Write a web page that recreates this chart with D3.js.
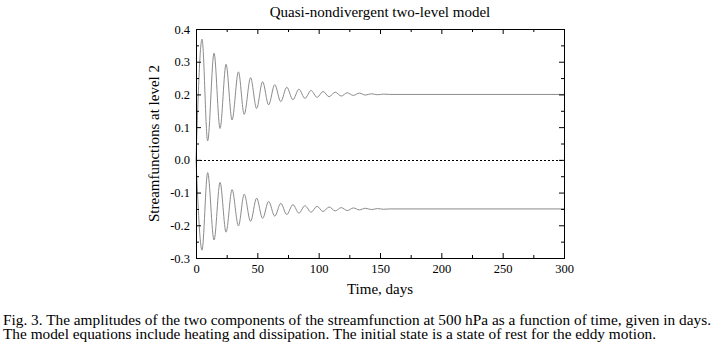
<!DOCTYPE html>
<html>
<head>
<meta charset="utf-8">
<script src="https://cdn.jsdelivr.net/npm/d3@7"></script>
<style>
  body { margin: 0; background: #fff; }
  text { font-family: "Liberation Serif", "DejaVu Serif", serif; fill: #000; }
</style>
</head>
<body>
<script>
// times (days) of the extrema
var timeDays = [0, 4.9, 9.5, 14.7, 19.6, 24.5, 29.4, 34.6, 39.3, 44.5, 49.4,
    54.3, 59.2, 64.2, 69.1, 74.0, 79.0, 83.9, 88.8, 93.8, 98.7,
    103.6, 108.5, 113.5, 118.4, 123.3, 128.3, 133.2, 138.1, 143, 148, 153, 158, 300];

// upper component (settles at 0.2)
var upperValues = [0, 0.369, 0.058, 0.326, 0.096, 0.292, 0.122, 0.269, 0.139, 0.251, 0.157,
    0.239, 0.168, 0.230, 0.178, 0.222, 0.184, 0.216, 0.188, 0.212, 0.191,
    0.209, 0.193, 0.207, 0.195, 0.205, 0.197, 0.204, 0.198, 0.202, 0.199, 0.201, 0.2, 0.2];

// lower component (settles at -0.15)
var lowerValues = [0, -0.276, -0.039, -0.245, -0.069, -0.221, -0.091, -0.202, -0.105, -0.188, -0.117,
    -0.179, -0.127, -0.172, -0.133, -0.167, -0.137, -0.163, -0.140, -0.160, -0.142,
    -0.158, -0.144, -0.156, -0.146, -0.155, -0.147, -0.153, -0.148, -0.152, -0.149, -0.151, -0.15, -0.15];

var xTicks = [0, 50, 100, 150, 200, 250, 300];
var xMinor = [25, 75, 125, 175, 225, 275];
var yTicks = [-0.3, -0.2, -0.1, 0, 0.1, 0.2, 0.3, 0.4];
var yMinor = [-0.25, -0.15, -0.05, 0.05, 0.15, 0.25, 0.35];

var width = 714;
var height = 345;
var plotLeft = 196, plotRight = 564, plotTop = 29, plotBottom = 258;

var svg = d3.select("body").append("svg")
    .attr("width", width)
    .attr("height", height);

var xScale = d3.scaleLinear().domain([0, 300]).range([plotLeft, plotRight]);
var yScale = d3.scaleLinear().domain([-0.3, 0.4]).range([plotBottom, plotTop]);

var fmt = function (d) { return d.toFixed(1); };

// zero line (dotted)
svg.append("line")
    .attr("x1", xScale(0)).attr("x2", xScale(300))
    .attr("y1", Math.round(yScale(0)) + 0.5).attr("y2", Math.round(yScale(0)) + 0.5)
    .attr("stroke", "#000")
    .attr("stroke-width", 1)
    .attr("stroke-dasharray", "2,2");

// curves
var line = d3.line()
    .x(function (d) { return xScale(d[0]); })
    .y(function (d) { return yScale(d[1]); })
    .curve(d3.curveMonotoneX);

[upperValues, lowerValues].forEach(function (vals) {
    svg.append("path")
        .datum(timeDays.map(function (t, i) { return [t, vals[i]]; }))
        .attr("d", line)
        .attr("fill", "none")
        .attr("stroke", "#8c8c8c")
        .attr("stroke-width", 1);
});

// axes with inward ticks
function styleAxis(g) {
    g.select(".domain").remove();
    g.selectAll("line").attr("stroke", "#000");
    g.selectAll("text").style("font-family", "Liberation Serif").style("font-size", "12.5px");
}

svg.append("g").attr("transform", "translate(0," + plotBottom + ")")
    .call(d3.axisBottom(xScale).tickValues(xTicks).tickFormat(d3.format("d")).tickSize(-5).tickPadding(6))
    .call(styleAxis);
svg.append("g").attr("transform", "translate(0," + plotBottom + ")")
    .call(d3.axisBottom(xScale).tickValues(xMinor).tickFormat("").tickSize(-3))
    .call(styleAxis);
svg.append("g").attr("transform", "translate(0," + plotTop + ")")
    .call(d3.axisTop(xScale).tickValues(xTicks).tickFormat("").tickSize(-5))
    .call(styleAxis);
svg.append("g").attr("transform", "translate(0," + plotTop + ")")
    .call(d3.axisTop(xScale).tickValues(xMinor).tickFormat("").tickSize(-3))
    .call(styleAxis);

svg.append("g").attr("transform", "translate(" + plotLeft + ",0)")
    .call(d3.axisLeft(yScale).tickValues(yTicks).tickFormat(fmt).tickSize(-5).tickPadding(6))
    .call(styleAxis);
svg.append("g").attr("transform", "translate(" + plotLeft + ",0)")
    .call(d3.axisLeft(yScale).tickValues(yMinor).tickFormat("").tickSize(-3))
    .call(styleAxis);
svg.append("g").attr("transform", "translate(" + plotRight + ",0)")
    .call(d3.axisRight(yScale).tickValues(yTicks).tickFormat("").tickSize(-5))
    .call(styleAxis);
svg.append("g").attr("transform", "translate(" + plotRight + ",0)")
    .call(d3.axisRight(yScale).tickValues(yMinor).tickFormat("").tickSize(-3))
    .call(styleAxis);

// frame
svg.append("rect")
    .attr("x", plotLeft + 0.5).attr("y", plotTop + 0.5)
    .attr("width", plotRight - plotLeft).attr("height", plotBottom - plotTop)
    .attr("fill", "none")
    .attr("stroke", "#000")
    .attr("stroke-width", 1);

// title and axis labels
svg.append("text")
    .attr("x", (plotLeft + plotRight) / 2).attr("y", 17)
    .attr("text-anchor", "middle")
    .style("font-size", "15px")
    .text("Quasi-nondivergent two-level model");

svg.append("text")
    .attr("x", (plotLeft + plotRight) / 2).attr("y", 294)
    .attr("text-anchor", "middle")
    .style("font-size", "15px")
    .text("Time, days");

svg.append("text")
    .attr("transform", "translate(159," + ((plotTop + plotBottom) / 2) + ") rotate(-90)")
    .attr("text-anchor", "middle")
    .style("font-size", "15px")
    .text("Streamfunctions at level 2");

// caption: line 1 spans the width, line 2 stretched by the same ratio
var caption = [
    "Fig. 3. The amplitudes of the two components of the streamfunction at 500 hPa as a function of time, given in days.",
    "The model equations include heating and dissipation. The initial state is a state of rest for the eddy motion."
];
var capLines = svg.selectAll(".caption").data(caption).enter().append("text")
    .attr("class", "caption")
    .attr("x", 3)
    .attr("y", function (d, i) { return 325 + i * 14; })
    .style("font-size", "14px")
    .text(function (d) { return d; });
var lens = capLines.nodes().map(function (n) { return n.getComputedTextLength(); });
var ratio = 708 / lens[0];
capLines
    .attr("textLength", function (d, i) { return lens[i] * ratio; })
    .attr("lengthAdjust", "spacingAndGlyphs");
</script>
</body>
</html>
